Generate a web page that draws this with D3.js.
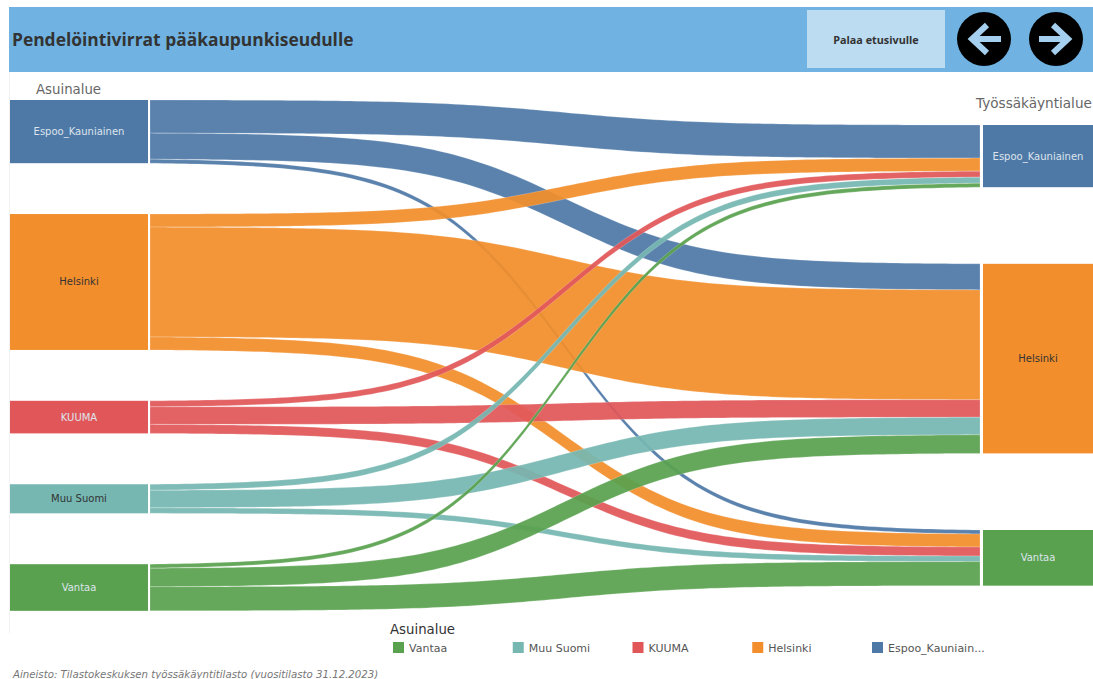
<!DOCTYPE html>
<html>
<head>
<meta charset="utf-8">
<script src="https://cdn.jsdelivr.net/npm/d3@7"></script>
<style>
body { margin: 0; background: #fff; }
text { font-family: "DejaVu Sans", sans-serif; }
</style>
</head>
<body>
<div id="chart-area"></div>
<script>
var homeAreas = ["Espoo_Kauniainen", "Helsinki", "KUUMA", "Muu Suomi", "Vantaa"];
var workAreas = ["Espoo_Kauniainen", "Helsinki", "Vantaa"];
var legendAreas = ["Vantaa", "Muu Suomi", "KUUMA", "Helsinki", "Espoo_Kauniain..."];
var legendKeys = ["Vantaa", "Muu Suomi", "KUUMA", "Helsinki", "Espoo_Kauniainen"];

// flow sizes, one list per home area, in the order of workAreas
var fromEspoo = [33, 26, 4];
var fromHelsinki = [13, 109.5, 13];
var fromKuuma = [6, 17.5, 9];
var fromMuu = [6, 17.5, 5.5];
var fromVantaa = [4, 18.5, 24];
var flows = [fromEspoo, fromHelsinki, fromKuuma, fromMuu, fromVantaa];

var colors = ["#4e79a7", "#f28e2b", "#e15759", "#76b7b2", "#59a14f"];

var width = 1093;
var height = 679;

var svg = d3.select("#chart-area")
    .append("svg")
        .attr("width", width)
        .attr("height", height)
        .style("display", "block");

var color = d3.scaleOrdinal().domain(homeAreas).range(colors);

// stack nodes on their own side, returns start of each node
function stack(totals, top, gap) {
    var y = top;
    return totals.map((t) => {
        var start = y;
        y += t + gap;
        return start;
    });
}

var homeTotals = flows.map((f) => d3.sum(f));
var workTotals = workAreas.map((w, j) => d3.sum(flows, (f) => f[j]));

// one flow unit is about one pixel tall
var y = d3.scaleLinear().domain([0, 1]).range([0, 1.003]);

var homeStart = stack(homeTotals, 0, 50.7);
var workStart = stack(workTotals, 0, 76.4);
var homeTop = 100;
var workTop = 125;

var x = d3.scaleLinear().domain([0, 1]).range([150, 980]);

// sigmoid used for the ribbons
function sigmoid(t) {
    var s = (v) => 1 / (1 + Math.exp(-12 * (v - 0.5)));
    return (s(t) - s(0)) / (s(1) - s(0));
}

var links = [];
var workOffset = workAreas.map(() => 0);
flows.forEach((f, i) => {
    var homeOffset = 0;
    f.forEach((v, j) => {
        links.push({
            home: homeAreas[i],
            a: homeTop + y(homeStart[i] + homeOffset),
            b: workTop + y(workStart[j] + workOffset[j]),
            h: y(v)
        });
        homeOffset += v;
        workOffset[j] += v;
    });
});

var steps = d3.range(0, 1.0001, 1 / 120);

function ribbonPath(l) {
    return d3.area()
        .x((t) => x(t))
        .y0((t) => l.a + (l.b - l.a) * sigmoid(t))
        .y1((t) => l.a + l.h + (l.b - l.a) * sigmoid(t))(steps);
}

svg.append("rect")
    .attr("x", 9).attr("y", 71).attr("width", 1).attr("height", 562)
    .attr("fill", "#f2f2f2");

// header
svg.append("rect")
    .attr("x", 9).attr("y", 7).attr("width", 1084).attr("height", 65)
    .attr("fill", "#70b3e3");
svg.append("text")
    .attr("x", 12).attr("y", 46)
    .attr("font-size", "17.4px").attr("font-weight", "bold")
    .attr("fill", "#333")
    .style("font-family", "'Open Sans'")
    .text("Pendelöintivirrat pääkaupunkiseudulle");
svg.append("rect")
    .attr("x", 807).attr("y", 10).attr("width", 138).attr("height", 58)
    .attr("fill", "#bcdcf2");
svg.append("text")
    .attr("x", 876).attr("y", 44)
    .attr("text-anchor", "middle")
    .attr("font-size", "10.8px").attr("font-weight", "bold")
    .attr("fill", "#333")
    .style("font-family", "'Open Sans'")
    .text("Palaa etusivulle");

// back and forward buttons
var arrows = [
    {cx: 984, path: "M1001,39H972M987,25L972,39L987,53"},
    {cx: 1056, path: "M1039,39H1068M1053,25L1068,39L1053,53"}
];
arrows.forEach((a) => {
    svg.append("circle").attr("cx", a.cx).attr("cy", 39).attr("r", 27).attr("fill", "#000");
    svg.append("path").attr("d", a.path)
        .attr("fill", "none").attr("stroke", "#a5cfee").attr("stroke-width", 6);
});

// ribbons
svg.append("g").selectAll("path")
    .data(links)
    .enter()
    .append("path")
        .attr("d", ribbonPath)
        .attr("fill", (l) => color(l.home))
        .attr("fill-opacity", 0.93)
        .attr("stroke", "#fff")
        .attr("stroke-opacity", 0.5)
        .attr("stroke-width", 0.4);

// nodes
function drawNodes(names, starts, totals, top, nodeX, nodeW, colorOf) {
    var g = svg.append("g");
    names.forEach((n, i) => {
        var yTop = top + y(starts[i]);
        var h = y(totals[i]);
        g.append("rect")
            .attr("x", nodeX).attr("y", yTop).attr("width", nodeW).attr("height", h)
            .attr("fill", colorOf(n));
        g.append("text")
            .attr("x", nodeX + nodeW / 2).attr("y", yTop + h / 2 + 3.5)
            .attr("text-anchor", "middle")
            .attr("font-size", "10px")
            .attr("fill", (n == "Helsinki" || n == "Muu Suomi") ? "#333" : "#dde4ec")
            .text(n);
    });
}
drawNodes(homeAreas, homeStart, homeTotals, homeTop, 10, 138, color);
drawNodes(workAreas, workStart, workTotals, workTop, 983, 110, color);

// side titles
svg.append("text")
    .attr("x", 36).attr("y", 94)
    .attr("font-size", "13.3px").attr("fill", "#666")
    .text("Asuinalue");
svg.append("text")
    .attr("x", 976).attr("y", 108)
    .attr("font-size", "13.6px").attr("fill", "#666")
    .text("Työssäkäyntialue");

// legend
var legendX = d3.scalePoint().domain(legendKeys).range([393, 872]);
svg.append("text")
    .attr("x", 390).attr("y", 634)
    .attr("font-size", "13.3px").attr("fill", "#333")
    .text("Asuinalue");
var legend = svg.append("g").selectAll("g")
    .data(legendKeys)
    .enter()
    .append("g")
        .attr("transform", (d) => "translate(" + legendX(d) + ", 642)");
legend.append("rect")
    .attr("width", 11).attr("height", 11)
    .attr("fill", (d) => color(d));
legend.append("text")
    .attr("x", 16).attr("y", 10)
    .attr("font-size", "11px").attr("fill", "#555")
    .text((d, i) => legendAreas[i]);

svg.append("text")
    .attr("x", 13).attr("y", 678)
    .attr("font-size", "10.2px").attr("font-style", "italic").attr("fill", "#777")
    .text("Aineisto: Tilastokeskuksen työssäkäyntitilasto (vuositilasto 31.12.2023)");
</script>
</body>
</html>
